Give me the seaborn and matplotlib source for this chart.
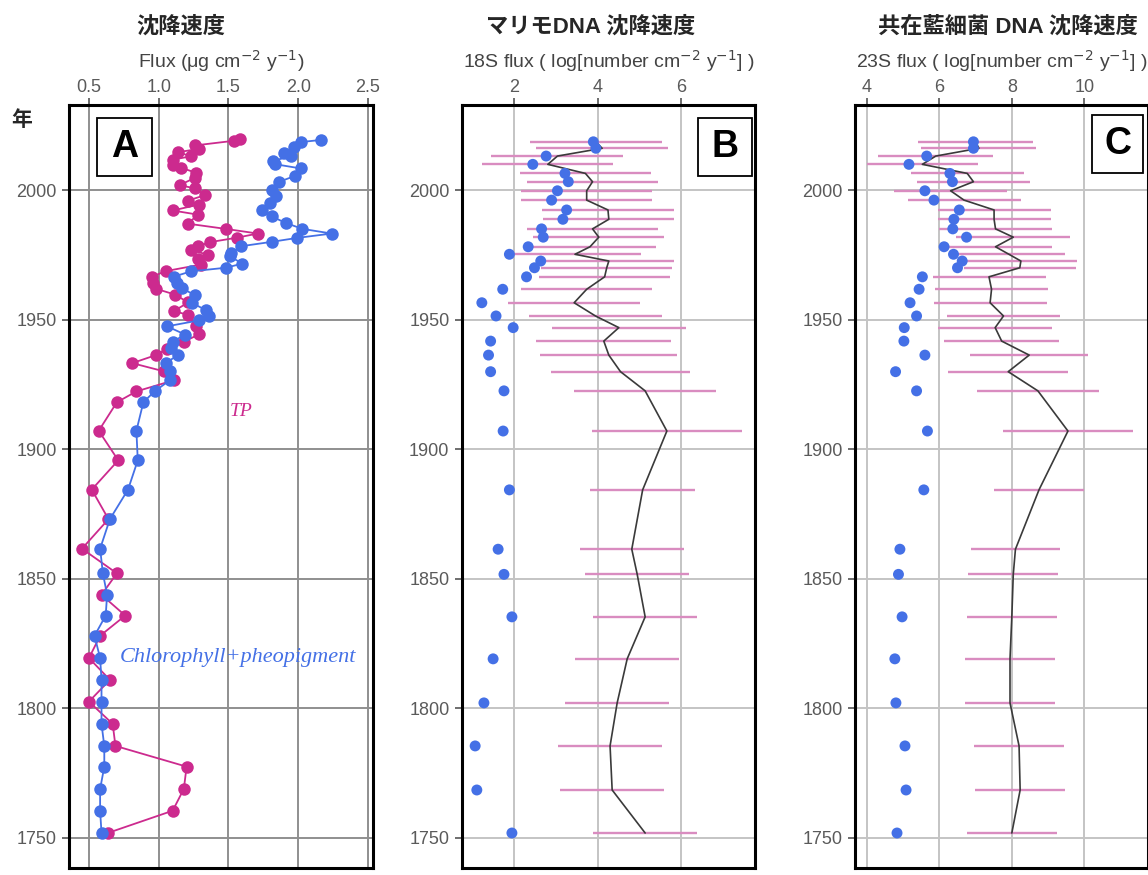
import matplotlib
matplotlib.use("Agg")
import matplotlib.pyplot as plt
import matplotlib.patches as mpatches
import numpy as np
import pandas as pd
import seaborn as sns

# ---- Panel A: flux of TP and chlorophyll+pheopigment ----
tp_years = [2019.8, 2019.0, 2017.2, 2015.9, 2014.6, 2013.0, 2011.7, 2009.8, 2008.6,
            2006.6, 2004.7, 2001.9, 2000.6, 1998.0, 1995.9, 1994.4, 1992.1, 1990.5,
            1987.0, 1985.0, 1983.2, 1981.6, 1979.9, 1978.3, 1976.8, 1975.1, 1973.2,
            1971.2, 1968.7, 1966.5, 1964.2, 1961.9, 1959.6, 1956.6, 1953.3, 1951.8,
            1947.4, 1944.3, 1941.5, 1938.7, 1936.3, 1933.2, 1930.0, 1926.6, 1922.3,
            1918.1, 1907.1, 1895.7, 1884.4, 1873.0, 1861.6, 1852.1, 1843.8, 1835.8,
            1828.0, 1819.4, 1811.0, 1802.6, 1794.0, 1785.5, 1777.5, 1768.9, 1760.5,
            1752.0]
tp_flux = [1.58, 1.54, 1.26, 1.29, 1.14, 1.23, 1.10, 1.10, 1.16,
           1.27, 1.26, 1.15, 1.26, 1.33, 1.21, 1.29, 1.10, 1.28,
           1.21, 1.48, 1.71, 1.56, 1.37, 1.28, 1.23, 1.35, 1.28,
           1.30, 1.05, 0.95, 0.96, 0.98, 1.12, 1.21, 1.11, 1.21,
           1.27, 1.29, 1.18, 1.06, 0.98, 0.81, 1.04, 1.11, 0.84,
           0.70, 0.57, 0.71, 0.52, 0.64, 0.45, 0.70, 0.59, 0.76,
           0.58, 0.50, 0.65, 0.50, 0.67, 0.69, 1.20, 1.18, 1.10,
           0.64]

chl_years = [2019.3, 2018.5, 2016.5, 2014.2, 2013.0, 2011.3, 2010.0, 2008.3, 2005.5,
             2003.1, 2000.1, 1997.7, 1995.0, 1992.1, 1989.8, 1987.3, 1985.0, 1983.2,
             1981.5, 1980.0, 1978.3, 1975.8, 1974.4, 1971.6, 1970.0, 1968.6, 1966.6,
             1964.2, 1962.0, 1959.4, 1956.4, 1953.6, 1951.5, 1949.7, 1947.4, 1944.2,
             1941.5, 1939.0, 1936.4, 1933.2, 1930.2, 1926.6, 1922.3, 1918.1, 1907.1,
             1895.7, 1884.4, 1873.0, 1861.6, 1852.1, 1843.8, 1835.8, 1828.0, 1819.4,
             1811.0, 1802.6, 1794.0, 1785.5, 1777.5, 1768.9, 1760.5, 1752.0]
chl_flux = [2.16, 2.02, 1.97, 1.90, 1.95, 1.82, 1.83, 2.02, 1.98,
            1.86, 1.81, 1.84, 1.80, 1.74, 1.81, 1.91, 2.03, 2.24,
            1.99, 1.81, 1.59, 1.52, 1.51, 1.60, 1.48, 1.23, 1.11,
            1.13, 1.17, 1.26, 1.24, 1.34, 1.36, 1.29, 1.06, 1.19,
            1.10, 1.09, 1.14, 1.05, 1.08, 1.08, 0.97, 0.89, 0.84,
            0.85, 0.78, 0.65, 0.58, 0.60, 0.63, 0.62, 0.54, 0.58,
            0.59, 0.59, 0.59, 0.61, 0.61, 0.58, 0.58, 0.59]

# ---- Panels B and C: DNA flux (log) per core slice ----
dna_years = [2018.6, 2016.1, 2013.1, 2009.9, 2006.4, 2003.2, 1999.7, 1996.1, 1992.3,
             1988.7, 1985.0, 1981.8, 1978.1, 1975.2, 1972.6, 1970.0, 1966.5, 1961.7,
             1956.5, 1951.4, 1946.9, 1941.7, 1936.3, 1929.9, 1922.5, 1907.0, 1884.3,
             1861.4, 1851.7, 1835.3, 1819.1, 1802.1, 1785.5, 1768.5, 1751.9]

b_dots = [3.90, 3.96, 2.77, 2.45, 3.22, 3.30, 3.04, 2.90, 3.26, 3.17, 2.66, 2.70,
          2.34, 1.89, 2.64, 2.49, 2.30, 1.73, 1.23, 1.57, 1.98, 1.44, 1.39, 1.44,
          1.76, 1.74, 1.89, 1.62, 1.76, 1.95, 1.50, 1.28, 1.07, 1.11, 1.95]
b_mean = [3.96, 4.11, 3.04, 2.81, 3.71, 3.88, 3.74, 3.74, 4.25, 4.27, 3.88, 4.03,
          3.82, 3.46, 4.27, 4.22, 4.17, 3.74, 3.44, 3.95, 4.51, 4.15, 4.27, 4.55,
          5.14, 5.66, 5.08, 4.82, 4.95, 5.14, 4.71, 4.47, 4.30, 4.35, 5.14]
b_err = [1.58, 1.58, 1.58, 1.57, 1.57, 1.57, 1.57, 1.57, 1.57, 1.57, 1.57, 1.57,
         1.57, 1.57, 1.57, 1.57, 1.57, 1.57, 1.58, 1.59, 1.60, 1.62, 1.64, 1.66,
         1.70, 1.80, 1.25, 1.24, 1.24, 1.25, 1.25, 1.25, 1.25, 1.25, 1.25]

c_dots = [6.94, 6.94, 5.65, 5.16, 6.29, 6.36, 5.60, 5.85, 6.55, 6.40, 6.37, 6.75,
          6.13, 6.39, 6.63, 6.50, 5.53, 5.44, 5.19, 5.37, 5.03, 5.02, 5.60, 4.79,
          5.37, 5.67, 5.57, 4.91, 4.87, 4.97, 4.77, 4.80, 5.05, 5.08, 4.83]
c_mean = [7.00, 7.09, 5.90, 5.53, 6.77, 6.94, 6.31, 6.68, 7.51, 7.51, 7.55, 8.04,
          7.55, 7.92, 8.25, 8.22, 7.37, 7.44, 7.40, 7.77, 7.54, 7.72, 8.48, 7.90,
          8.72, 9.55, 8.75, 8.10, 8.04, 8.00, 7.95, 7.95, 8.20, 8.23, 8.00]
c_err = [1.59, 1.59, 1.59, 1.54, 1.56, 1.56, 1.56, 1.56, 1.56, 1.56, 1.56, 1.57,
         1.56, 1.56, 1.55, 1.55, 1.56, 1.56, 1.56, 1.57, 1.57, 1.58, 1.63, 1.66,
         1.69, 1.79, 1.24, 1.23, 1.24, 1.24, 1.24, 1.24, 1.24, 1.24, 1.24]

year_ticks = [1750, 1800, 1850, 1900, 1950, 2000]

MAGENTA = '#cc2a8e'
BLUE = '#4470e6'
PINK = '#d98cc0'

sns.set_theme(style="white")
plt.rcParams['font.family'] = ['Liberation Sans', 'Noto Sans CJK JP', 'DejaVu Sans']

fig = plt.figure(figsize=(11.48, 8.75), dpi=100)
W, H = 1148, 875
axA = fig.add_axes([69 / W, 7 / H, 304 / W, 763 / H])
axB = fig.add_axes([462 / W, 7 / H, 293 / W, 763 / H])
axC = fig.add_axes([855 / W, 7 / H, 293 / W, 763 / H])

# panel A
tp = pd.DataFrame({'year': tp_years, 'flux': tp_flux})
chl = pd.DataFrame({'year': chl_years, 'flux': chl_flux})
sns.lineplot(data=tp, x='flux', y='year', orient='y', sort=False, estimator=None,
             color=MAGENTA, marker='o', markersize=9, markeredgewidth=0, lw=1.3, ax=axA)
sns.lineplot(data=chl, x='flux', y='year', orient='y', sort=False, estimator=None,
             color=BLUE, marker='o', markersize=9, markeredgewidth=0, lw=1.3, ax=axA)
axA.set_xlim(0.357, 2.536)
axA.set_xticks([0.5, 1.0, 1.5, 2.0, 2.5])
axA.set_xticklabels(['0.5', '1.0', '1.5', '2.0', '2.5'])
axA.set_xlabel('Flux (μg cm$^{-2}$ y$^{-1}$)')
axA.text(1.59, 1914.5, 'TP', color=MAGENTA, fontsize=14, style='italic',
         family='Liberation Serif', ha='center', va='center')
axA.text(1.57, 1819.5, 'Chlorophyll+pheopigment', color=BLUE, fontsize=16,
         style='italic', family='Liberation Serif', ha='center', va='center')

# panels B and C
def dna_panel(ax, dots, mean, err, xlim, xticks, xlabel):
    lo = np.array(mean) - np.array(err)
    hi = np.array(mean) + np.array(err)
    ax.hlines(dna_years, lo, hi, color=PINK, lw=1.7)
    sns.lineplot(x=mean, y=dna_years, orient='y', sort=False, estimator=None,
                 color='#3a3a3a', lw=1.2, ax=ax)
    sns.scatterplot(x=dots, y=dna_years, color=BLUE, s=62, edgecolor='none',
                    zorder=4, ax=ax)
    ax.set_xlim(*xlim)
    ax.set_xticks(xticks)
    ax.set_xlabel(xlabel)

dna_panel(axB, b_dots, b_mean, b_err, (0.755, 7.77), [2, 4, 6],
          '18S flux ( log[number cm$^{-2}$ y$^{-1}$] )')
dna_panel(axC, c_dots, c_mean, c_err, (3.67, 11.76), [4, 6, 8, 10],
          '23S flux ( log[number cm$^{-2}$ y$^{-1}$] )')

for ax, gcol in [(axA, '#8f8f8f'), (axB, '#c4c4c4'), (axC, '#c4c4c4')]:
    ax.set_ylim(1738.4, 2032.8)
    ax.set_yticks(year_ticks)
    ax.set_ylabel('')
    ax.grid(True, color=gcol, lw=1.4)
    ax.set_axisbelow(True)
    ax.xaxis.tick_top()
    ax.xaxis.set_label_position('top')
    ax.xaxis.label.set_color('#444444')
    ax.xaxis.label.set_fontsize(14)
    ax.xaxis.labelpad = 8
    ax.tick_params(axis='both', which='both', direction='out', length=5, width=1.2,
                   color='#555555', labelcolor='#5a5a5a', labelsize=13, pad=4,
                   left=True, top=True, bottom=False, right=False)
    ax.tick_params(axis='x', pad=1.5)
    for sp in ax.spines.values():
        sp.set_color('black')
        sp.set_linewidth(2.2)

# boxed panel letters
for ax, letter, (x0, x1, y0, y1) in [(axA, 'A', (0.092, 0.273, 0.907, 0.983)),
                                     (axB, 'B', (0.805, 0.990, 0.907, 0.983)),
                                     (axC, 'C', (0.809, 0.983, 0.911, 0.987))]:
    ax.add_patch(mpatches.Rectangle((x0, y0), x1 - x0, y1 - y0, transform=ax.transAxes,
                                    fc='white', ec='black', lw=1.3, zorder=6))
    ax.text((x0 + x1) / 2, (y0 + y1) / 2, letter, transform=ax.transAxes, ha='center',
            va='center', fontsize=27, fontweight='bold', color='black', zorder=7)

# titles
fig.text(181 / W, 1 - 27 / H, '沈降速度', ha='center', va='center', fontsize=16,
         fontweight='bold')
fig.text(591 / W, 1 - 27 / H, 'マリモDNA 沈降速度', ha='center', va='center',
         fontsize=16, fontweight='bold')
fig.text(1008 / W, 1 - 27 / H, '共在藍細菌 DNA 沈降速度', ha='center', va='center',
         fontsize=16, fontweight='bold')
fig.text(22 / W, 1 - 120 / H, '年', ha='center', va='center', fontsize=15,
         fontweight='bold')

fig.savefig('out.png', dpi=100)
